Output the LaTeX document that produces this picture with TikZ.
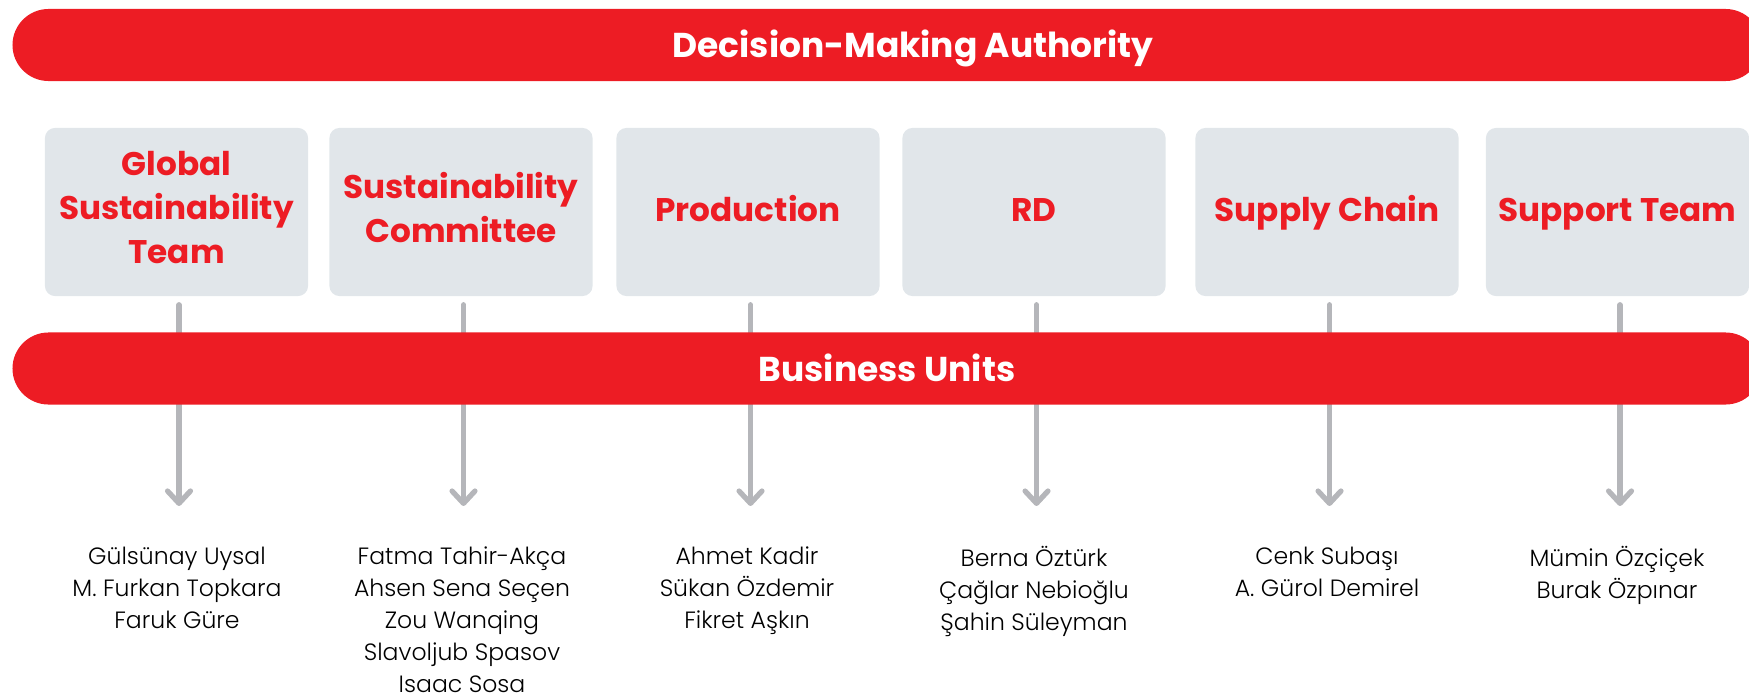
\documentclass[tikz,border=0pt]{standalone}
\usepackage{fontspec}
\usepackage{xcolor}
\usepackage{tikz}
\usetikzlibrary{arrows.meta}
\setmainfont{Poppins}
\newfontfamily\namefont{Poppins Light}
\definecolor{bandred}{HTML}{ED1C24}
\definecolor{teamgray}{HTML}{E1E6EA}
\definecolor{linkgray}{HTML}{B5B6BA}
\newcommand{\capstrut}{\rule{0pt}{10pt}}
\newcommand{\descstrut}{\rule[-2.6pt]{0pt}{0pt}}

\begin{document}
\begin{tikzpicture}[x=0.01cm, y=-0.01cm,
    band/.style={fill=bandred, rounded corners=0.36cm, minimum width=17.48cm, minimum height=0.72cm, inner sep=0pt},
    bandtext/.style={text=white, inner sep=0pt, font=\bfseries\fontsize{9.8}{11}\selectfont,
        execute at begin node=\capstrut, execute at end node=\descstrut},
    team/.style={fill=teamgray, rounded corners=0.1cm, minimum width=2.63cm, minimum height=1.68cm,
        text=bandred, align=center, inner sep=0pt, font=\bfseries\fontsize{9.3}{12.4}\selectfont,
        execute at begin node=\capstrut, execute at end node=\descstrut},
    oneline/.style={execute at end node=\rule[-4.6pt]{0pt}{0pt}},
    people/.style={anchor=north, align=center, inner sep=0pt, font=\namefont\fontsize{6.7}{9.1}\selectfont,
        execute at begin node=\rule{0pt}{8pt}},
    link/.style={draw=linkgray, line width=1.5pt, line cap=round,
        -{Straight Barb[length=3.5pt, width=6.5pt, round]}}]
    \useasboundingbox (0,0) rectangle (1749,697);
    % teams
    \node[team] (t1) at (176.5,212) {Global\\Sustainability\\Team};
    \node[team] (t2) at (461,212) {Sustainability\\Committee};
    \node[team, oneline] (t3) at (748,212) {Production};
    \node[team, oneline] (t4) at (1034,212) {RD};
    \node[team, oneline] (t5) at (1327,212) {Supply Chain};
    \node[team, oneline] (t6) at (1617.5,212) {Support Team};
    % people
    \node[people] (p1) at (177,546) {Gülsünay Uysal\\M. Furkan Topkara\\Faruk Güre};
    \node[people] (p2) at (462,546) {Fatma Tahir-Akça\\Ahsen Sena Seçen\\Zou Wanqing\\Slavoljub Spasov\\Isaac Sosa};
    \node[people] (p3) at (747,546) {Ahmet Kadir\\Sükan Özdemir\\Fikret Aşkın};
    \node[people] (p4) at (1034,546) {Berna Öztürk\\Çağlar Nebioğlu\\Şahin Süleyman};
    \node[people] (p5) at (1327,546) {Cenk Subaşı\\A. Gürol Demirel};
    \node[people] (p6) at (1617,546) {Mümin Özçiçek\\Burak Özpınar};
    % links
    \foreach \i in {1,...,6}
        \draw[link, shorten <=0.08cm, shorten >=0.40cm]
            ([xshift=0.025cm]t\i.south) -- ([xshift=0.025cm]t\i.south |- p\i.north);
    % bands
    \node[band] (dma) at (887,45) {};
    \node[bandtext] (dmatext) at (913,45) {Decision-Making Authority};
    \node[band] (bu) at (887,368.5) {};
    \node[bandtext] (butext) at (887,368.5) {Business Units};
\end{tikzpicture}
\end{document}
